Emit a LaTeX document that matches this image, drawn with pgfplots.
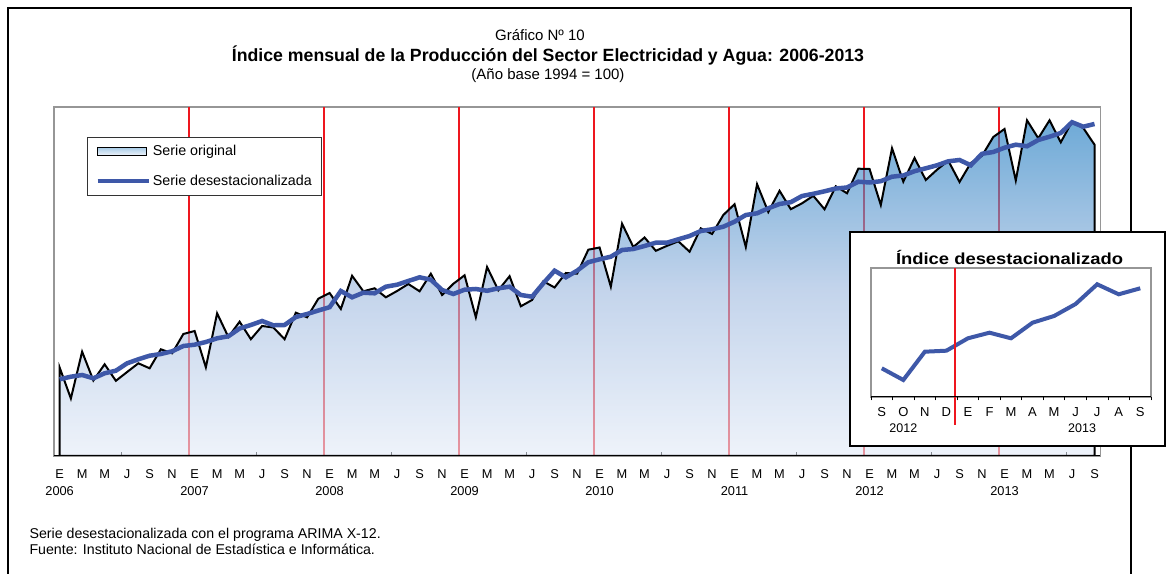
\documentclass[border=0pt]{standalone}
\usepackage{fontspec}
\setmainfont{Liberation Sans}
\usepackage{graphicx}
\usepackage{pgfplots}
\usepackage{pgfplotstable}
\pgfplotsset{compat=1.18}
\definecolor{atop}{RGB}{13,113,188}
\definecolor{amid}{RGB}{155,183,222}
\definecolor{abot}{RGB}{227,235,247}
\definecolor{sblue}{RGB}{62,88,168}
\definecolor{jred}{RGB}{238,22,30}
\definecolor{fgray}{RGB}{150,150,150}

\pgfplotstableread{
x orig desest
0 88.5 76.7
1 57.5 79.3
2 104.3 81
3 75.5 77.7
4 91.7 82.7
5 75.2 85.3
6 84 92.7
7 92.7 96.7
8 87.7 100.3
9 106.7 102
10 102.7 104.7
11 122 110
12 125 111.3
13 88.7 114
14 142.7 117.7
15 119 119.7
16 134.3 127.5
17 116.8 131
18 130 135
19 128.5 130.7
20 116.8 131
21 143.3 139
22 138.7 142
23 157.3 145.5
24 163 148.8
25 147 165
26 180.2 158.7
27 164.7 163.3
28 167.7 162.7
29 158.7 169.3
30 165 171.3
31 172 175
32 164.7 178.7
33 182.3 176.3
34 161 166
35 172.2 162
36 180.7 166.3
37 138.7 167
38 189 165.2
39 165.7 167.7
40 179.8 169.3
41 149.7 161
42 156 159.3
43 174.7 172.7
44 168.5 185.3
45 183 178.7
46 182.3 185.3
47 206.3 193.8
48 208.5 196.7
49 169.3 199.3
50 232.3 206
51 209 207
52 218.5 210
53 205.2 213.3
54 210.2 213.3
55 214.7 216.7
56 204.3 220
57 227.7 225
58 222 226.7
59 241 229.3
60 251.8 234.3
61 209 241
62 271.8 242.7
63 244 247.7
64 265.2 252
65 246.8 253.8
66 252.7 260
67 260.2 262.2
68 246.7 264.7
69 269.7 267.5
70 262.7 268.5
71 287.3 274.3
72 287 273.5
73 251 274.8
74 307.7 279.3
75 274.3 280.5
76 298 284.8
77 276 287.7
78 286.3 290.7
79 295.3 294.7
80 274 296
81 293 290.7
82 300.2 302.2
83 319 304
84 327 308.3
85 275.5 311.3
86 335.7 309.7
87 317.7 316
88 335.7 319.3
89 313.7 323
90 334.3 333.8
91 328 329.3
92 311.3 332
}\maindata

\pgfplotstableread{
x desest
0 28.7
1 17
2 45.3
3 46.3
4 58.7
5 64.3
6 58.7
7 74.3
8 81
9 93
10 112.7
11 102.7
12 108.7
}\insetdata

\begin{document}
\begin{tikzpicture}
\path[use as bounding box] (0pt,0pt) rectangle (1167pt,573pt);
\draw[line width=2pt] (8pt,-10pt) -- (8pt,565pt) -- (1131pt,565pt) -- (1131pt,-10pt);
\node[font=\fontsize{15}{18}\selectfont] at (540pt,538pt) {Gráfico Nº 10};
\node[font=\bfseries\fontsize{17.7}{20}\selectfont] at (548pt,517pt) {Índice mensual de la Producción del Sector Electricidad y Agua: 2006-2013};
\node[font=\fontsize{15}{18}\selectfont] at (548pt,497pt) {(Año base 1994 = 100)};
\node[anchor=base west, font=\fontsize{14.2}{16}\selectfont] at (26pt,34.7pt) {Serie desestacionalizada con el programa ARIMA X-12.};
\node[anchor=base west, font=\fontsize{14.2}{16}\selectfont] at (26pt,19pt) {Fuente: Instituto Nacional de Estadística e Informática.};

\begin{axis}[
  at={(54pt,117pt)}, anchor=south west, scale only axis,
  width=1046.25pt, height=349pt,
  xmin=-0.5, xmax=92.5, ymin=0, ymax=349,
  ytick=\empty,
  axis line style={draw=fgray, line width=1.2pt},
  xtick pos=bottom,
  xtick={0,2,...,92},
  xticklabels={{E\\2006},M,M,J,S,N,{E\\2007},M,M,J,S,N,{E\\2008},M,M,J,S,N,{E\\2009},M,M,J,S,N,{E\\2010},M,M,J,S,N,{E\\2011},M,M,J,S,N,{E\\2012},M,M,J,S,N,{E\\2013},M,M,J,S},
  xticklabel style={align=center, font=\fontsize{12.8}{16.7}\selectfont, inner sep=0pt, yshift=-13.3pt},
  major tick length=0pt,
  extra x ticks={5.5,11.5,...,89.5},
  extra x tick labels={},
  extra x tick style={major tick length=4pt, tick align=inside, tick style={black, line width=1pt}},
  legend style={at={(rel axis cs:0.0315,0.914)}, anchor=north west, draw=black!80, line width=0.8pt,
    font=\fontsize{14.3}{16}\selectfont, row sep=14pt, inner xsep=8pt, inner ysep=6pt, cells={anchor=west}},
  legend cell align=left,
]
\pgfplotsinvokeforeach{11.5,23.5,35.5,47.5,59.5,71.5,83.5}{
  \draw[jred, line width=2pt] (axis cs:#1,0) -- (axis cs:#1,349);
}
\addplot[draw=black, line width=2pt, top color=atop, bottom color=abot, middle color=amid, fill opacity=0.6,
  legend image code/.code={\draw[black, line width=1.5pt, top color=atop!60, bottom color=abot] (0pt,-4pt) rectangle (49pt,4pt);}]
  table[x=x,y=orig]{\maindata} \closedcycle;
\addlegendentry{Serie original}
\addplot[sblue, line width=4.5pt,
  legend image code/.code={\draw[sblue, line width=4.5pt] (0pt,0pt) -- (51pt,0pt);}]
  table[x=x,y=desest]{\maindata};
\addlegendentry{Serie desestacionalizada}
\draw[black, line width=2pt] (axis cs:-0.5,0) -- (axis cs:92.5,0);
\end{axis}

\draw[line width=2pt, fill=white] (850pt,127.3pt) rectangle (1165pt,340.7pt);
\node[font=\bfseries\fontsize{16}{18}\selectfont] at (1009.5pt,315.5pt) {\scalebox{1.15}[1]{Índice desestacionalizado}};

\begin{axis}[
  at={(871pt,176pt)}, anchor=south west, scale only axis,
  width=280pt, height=129pt,
  xmin=-0.5, xmax=12.5, ymin=0, ymax=129,
  ytick=\empty,
  axis line style={draw=fgray, line width=1.2pt},
  xtick pos=bottom,
  xtick={0,...,12},
  xticklabels={S,O,N,D,E,F,M,A,M,J,J,A,S},
  xticklabel style={font=\fontsize{13}{15}\selectfont, inner sep=0pt, yshift=-10pt},
  major tick length=0pt,
  extra x ticks={-0.5,0.5,...,12.5},
  extra x tick labels={},
  extra x tick style={major tick length=3.5pt, tick align=outside, tick style={black, line width=0.8pt}},
  clip=false,
]
\addplot[sblue, line width=4pt] table[x=x,y=desest]{\insetdata};
\draw[jred, line width=1.3pt] (axis cs:3.4,129) -- (axis cs:3.4,-28);
\draw[black, line width=1pt] (axis cs:-0.5,0) -- (axis cs:12.5,0);
\node[font=\fontsize{12.5}{14}\selectfont] at (axis cs:1,-31.3) {2012};
\node[font=\fontsize{12.5}{14}\selectfont] at (axis cs:9.3,-31.3) {2013};
\end{axis}
\end{tikzpicture}
\end{document}
